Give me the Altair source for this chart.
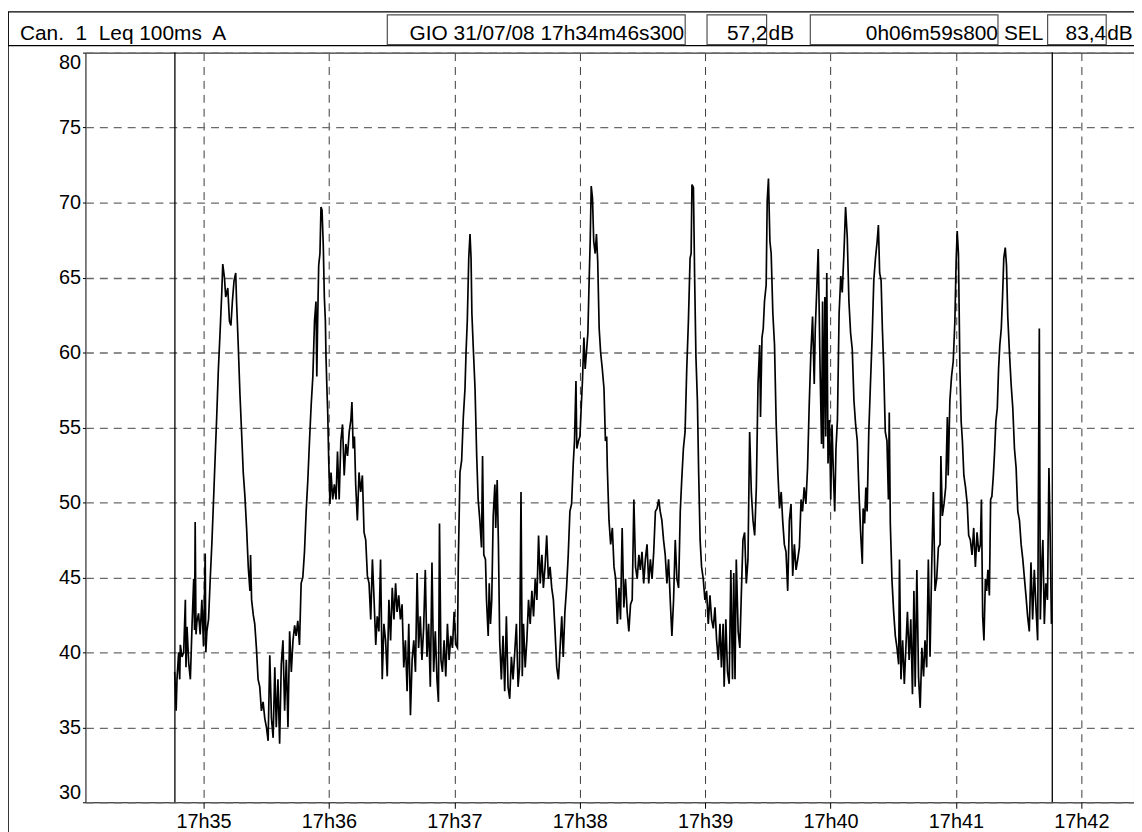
import altair as alt
import pandas as pd

# ---------------- data ----------------
# time in seconds after 17h00m00s, level in dB(A)
t_sec = [
    2086.2, 2086.9, 2087.3, 2088.1, 2088.6, 2088.9, 2089.7, 2090.5, 2091.3, 2091.6,
    2092.1, 2092.9, 2093.7, 2094.5, 2095.3, 2095.7, 2096.0, 2096.4, 2096.8, 2097.6,
    2098.4, 2099.2, 2100.0, 2100.8, 2101.1, 2101.6, 2102.4, 2103.2, 2104.0, 2104.8,
    2105.5, 2106.3, 2107.1, 2107.9, 2108.7, 2109.2, 2110.0, 2110.6, 2111.6, 2112.4,
    2113.1, 2113.8, 2114.6, 2115.4, 2115.8, 2116.6, 2117.4, 2118.2, 2119.0, 2119.8,
    2120.6, 2121.4, 2122.2, 2122.5, 2123.0, 2123.8, 2124.5, 2125.3, 2126.1, 2126.9,
    2127.7, 2128.5, 2129.3, 2130.1, 2130.9, 2131.7, 2132.5, 2133.3, 2134.1, 2134.8,
    2135.6, 2136.4, 2137.2, 2138.0, 2138.8, 2139.6, 2140.4, 2141.2, 2142.0, 2142.8,
    2143.6, 2144.3, 2145.1, 2145.9, 2146.7, 2147.5, 2148.3, 2149.1, 2149.9, 2150.7,
    2151.5, 2152.3,
    2153.1, 2153.8, 2154.2, 2154.6, 2155.1, 2155.7, 2156.2, 2156.7, 2157.3, 2157.8,
    2158.3, 2158.6, 2159.1, 2159.4, 2159.9, 2160.5, 2161.0, 2161.8, 2162.6, 2163.4,
    2164.1, 2164.9, 2165.7, 2166.5, 2167.3, 2168.1, 2168.9, 2169.7, 2170.5, 2171.0,
    2171.6, 2172.2, 2172.8, 2173.6, 2174.4, 2175.2, 2176.0, 2176.8, 2177.6, 2178.4,
    2179.2, 2180.0, 2180.8, 2181.6, 2182.4, 2183.1, 2183.9, 2184.7, 2185.5, 2186.3,
    2187.1, 2187.9, 2188.7, 2189.5, 2190.3, 2191.1, 2191.9, 2192.6, 2193.4, 2194.2,
    2195.0, 2195.8, 2196.6, 2197.4, 2198.2, 2199.0, 2199.8, 2200.6, 2201.4, 2202.2,
    2202.9, 2203.7, 2204.5, 2205.3, 2206.1, 2206.9, 2207.7, 2208.5, 2209.3, 2210.1,
    2210.9, 2211.7, 2212.4, 2212.9, 2213.6, 2214.3, 2215.1, 2215.9, 2216.7, 2217.5,
    2218.3, 2219.1, 2219.9, 2220.7, 2221.5,
    2221.9, 2222.7, 2223.5, 2224.3, 2225.1, 2225.6, 2226.2, 2226.9, 2227.5, 2228.0,
    2228.4, 2229.1, 2229.9, 2230.7, 2231.4, 2232.2, 2233.0, 2233.5, 2234.1, 2234.9,
    2235.4, 2236.2, 2236.7, 2237.3, 2237.9, 2238.6, 2239.4, 2239.8, 2240.5, 2241.1,
    2241.7, 2242.5, 2243.3, 2244.1, 2244.9, 2245.7, 2246.5, 2247.3, 2248.1, 2248.9,
    2249.7, 2250.5, 2251.2, 2251.9, 2252.5, 2253.1, 2253.9, 2254.7, 2255.5, 2256.3,
    2257.1, 2257.9, 2258.7, 2259.5, 2260.3, 2261.1, 2261.9, 2262.6, 2263.4, 2264.2,
    2265.0, 2265.8, 2266.6, 2267.4, 2268.2, 2269.0, 2269.8, 2270.6, 2271.4, 2272.1,
    2272.9, 2273.7, 2274.5, 2275.3, 2276.1, 2276.9, 2277.5, 2278.2, 2278.6, 2279.4,
    2280.1, 2280.7, 2281.3, 2282.0, 2282.6, 2283.2, 2283.9, 2284.5, 2285.0, 2285.5,
    2286.1, 2286.7, 2287.4, 2288.0, 2288.6, 2289.3, 2290.0, 2290.8, 2291.6,
    2292.3, 2292.9, 2293.2, 2294.0, 2294.8, 2295.6, 2296.4, 2297.2, 2298.0, 2298.8,
    2299.5, 2300.3, 2301.1, 2301.9, 2302.7, 2303.5, 2304.3, 2305.1, 2305.9, 2306.7,
    2307.5, 2308.3, 2309.0, 2309.8, 2310.6, 2311.4, 2312.2, 2313.0, 2313.8, 2314.6,
    2315.4, 2316.2, 2317.0, 2317.8, 2318.5, 2319.3, 2320.1, 2320.9, 2321.7, 2322.5,
    2323.3, 2324.1, 2324.9, 2325.7, 2326.5, 2327.3, 2328.1, 2328.8, 2329.6, 2330.4,
    2331.2, 2332.0, 2332.8, 2333.3, 2333.7, 2334.4, 2335.0, 2335.6, 2336.3, 2336.9,
    2337.6, 2338.3, 2339.1, 2339.9, 2340.7, 2341.5, 2342.3, 2343.1, 2343.9, 2344.7,
    2345.5, 2346.3, 2347.1, 2347.8, 2348.6, 2349.1, 2349.9, 2350.7, 2351.5, 2352.3,
    2353.1, 2353.7, 2354.3, 2354.9, 2355.8, 2356.6, 2357.3, 2358.1, 2358.9,
    2359.7, 2360.5, 2361.3, 2362.1, 2362.9, 2363.7, 2364.5, 2365.3, 2366.1, 2366.5,
    2367.2, 2367.8, 2368.4, 2369.2, 2369.7, 2370.3, 2371.0, 2371.6, 2372.4, 2373.2,
    2374.0, 2374.8, 2375.6, 2376.4, 2377.1, 2377.9, 2378.7, 2379.5, 2380.3, 2381.1,
    2381.9, 2382.7, 2383.5, 2384.3, 2385.1, 2385.9, 2386.6, 2387.4, 2388.2, 2389.0,
    2389.8, 2390.6, 2391.4, 2392.2, 2392.7, 2393.5, 2394.1, 2394.6, 2395.0, 2395.7,
    2396.2, 2396.6, 2397.3, 2397.7, 2398.2, 2398.8, 2399.5, 2400.1, 2400.7, 2401.4,
    2402.0, 2402.6, 2403.3, 2404.1, 2404.9, 2405.6, 2406.4, 2407.2, 2408.0, 2408.8,
    2409.6, 2410.4, 2411.2, 2412.0, 2412.8, 2413.6, 2414.4, 2415.2, 2415.6, 2416.3,
    2416.9, 2417.5, 2418.3, 2419.1, 2419.9, 2420.7, 2421.5, 2422.3, 2422.9, 2423.5,
    2424.2, 2424.8, 2425.4, 2426.2, 2427.0, 2427.7, 2428.1, 2428.6, 2429.4,
    2430.2, 2431.0, 2431.8, 2432.6, 2433.0, 2433.7, 2434.5, 2435.3, 2436.1, 2436.8,
    2437.6, 2438.4, 2439.2, 2439.9, 2440.5, 2441.3, 2442.1, 2442.9, 2443.7, 2444.5,
    2445.2, 2446.0, 2446.8, 2447.6, 2448.4, 2449.2, 2450.0, 2450.8, 2451.6, 2452.4,
    2452.8, 2453.5, 2454.3, 2455.1, 2455.9, 2456.3, 2457.1, 2457.9, 2458.7, 2459.5,
    2460.1, 2460.6, 2461.2, 2461.9, 2462.5, 2463.1, 2463.8, 2464.6, 2465.4, 2466.1,
    2466.9, 2467.7, 2468.5, 2469.3, 2470.1, 2470.9, 2471.7, 2472.2, 2472.8, 2473.4,
    2474.1, 2474.7, 2475.3, 2476.0, 2476.6, 2477.2, 2477.9, 2478.5, 2479.1, 2479.8,
    2480.4, 2481.0, 2481.7, 2482.3, 2482.9, 2483.6, 2484.2, 2484.8, 2485.6, 2486.4,
    2487.2, 2488.0, 2488.8, 2489.6, 2490.4, 2491.2, 2492.0, 2492.8, 2493.5, 2494.3,
    2495.1, 2495.9, 2496.7, 2497.5, 2498.3, 2499.1, 2499.9, 2500.4, 2501.0, 2501.6,
    2502.3, 2503.0, 2503.8, 2504.5, 2505.1, 2505.7,
]

level_db = [
    38.7, 36.1, 38.2, 40.0, 38.2, 40.5, 39.7, 40.0, 43.5, 39.0,
    41.7, 39.3, 38.2, 41.8, 44.9, 41.5, 48.7, 41.2, 42.0, 42.6,
    41.2, 43.5, 40.4, 46.6, 40.0, 41.4, 42.2, 44.9, 47.3, 50.2,
    52.8, 55.7, 58.9, 61.3, 63.9, 65.9, 65.0, 63.7, 64.3, 62.1,
    61.8, 63.4, 64.8, 65.3, 63.4, 60.5, 57.3, 54.7, 52.0, 50.4,
    48.3, 45.7, 44.1, 46.5, 43.5, 42.5, 41.9, 40.3, 38.2, 37.7,
    36.1, 36.7, 35.6, 35.0, 34.1, 39.8, 35.6, 34.3, 39.0, 35.0,
    38.2, 33.9, 39.2, 40.8, 36.1, 39.5, 35.0, 41.4, 38.7, 40.8,
    41.8, 41.1, 42.1, 40.5, 44.6, 45.0, 46.7, 49.4, 51.5, 54.1,
    56.5, 58.4,
    62.1, 63.4, 58.4, 62.1, 65.8, 66.6, 69.7, 69.5, 67.1, 63.7,
    62.1, 59.7, 57.3, 56.1, 52.8, 49.9, 52.0, 50.2, 51.2, 50.2,
    53.4, 50.2, 54.1, 55.2, 51.8, 53.9, 53.1, 54.7, 55.5, 56.7,
    53.6, 54.4, 51.2, 48.8, 52.0, 50.7, 51.8, 48.0, 47.5, 45.1,
    44.6, 42.2, 46.2, 43.5, 40.5, 42.4, 41.4, 46.2, 38.2, 41.9,
    40.8, 38.4, 43.5, 40.8, 44.3, 42.2, 44.6, 42.7, 43.8, 42.2,
    43.2, 39.0, 40.8, 37.4, 41.9, 35.8, 39.5, 40.8, 38.7, 45.3,
    40.3, 42.4, 39.5, 41.6, 45.5, 39.7, 41.9, 37.7, 46.0, 38.7,
    41.4, 38.2, 36.7, 48.6, 39.5, 38.7, 40.8, 38.4, 41.9, 39.5,
    41.1, 40.3, 42.7, 40.5, 40.3,
    46.0, 52.0, 52.8, 55.7, 57.6, 60.0, 62.1, 66.3, 67.9, 66.3,
    62.6, 60.2, 57.6, 53.1, 50.2, 48.8, 47.0, 53.1, 46.5, 46.2,
    43.5, 41.1, 44.6, 41.9, 43.5, 49.1, 51.2, 48.3, 51.5, 47.2,
    40.8, 38.2, 41.1, 37.4, 42.4, 37.7, 36.9, 39.7, 38.2, 40.0,
    41.9, 37.7, 39.0, 50.7, 38.4, 41.9, 39.0, 40.8, 43.5, 41.9,
    44.1, 42.4, 44.9, 43.5, 47.8, 44.6, 46.5, 44.3, 45.7, 47.8,
    44.9, 45.7, 44.3, 43.5, 41.4, 39.0, 38.2, 40.3, 42.4, 39.7,
    42.7, 44.3, 46.5, 49.4, 49.9, 52.6, 54.1, 58.1, 53.6, 54.1,
    54.4, 56.3, 58.1, 61.0, 58.9, 60.0, 61.3, 64.8, 67.4, 71.1,
    70.3, 67.4, 66.6, 67.9, 66.1, 61.6, 60.0, 58.9, 57.6,
    54.1, 54.4, 52.3, 48.8, 47.2, 48.3, 45.7, 44.9, 41.9, 44.3,
    42.2, 48.3, 43.0, 44.9, 42.7, 41.4, 43.2, 43.5, 50.2, 45.7,
    44.9, 46.5, 45.5, 46.7, 44.6, 46.2, 47.2, 44.6, 46.2, 44.9,
    46.7, 49.4, 49.6, 50.2, 49.4, 48.8, 47.5, 46.5, 44.6, 46.2,
    43.5, 41.1, 43.5, 47.5, 44.9, 44.3, 49.4, 51.5, 53.6, 54.7,
    58.9, 62.1, 66.3, 66.6, 71.2, 71.0, 64.8, 59.7, 56.8, 52.0,
    47.5, 45.7, 44.9, 43.5, 44.1, 41.9, 43.8, 42.2, 41.6, 43.0,
    40.8, 39.5, 41.9, 39.0, 41.9, 37.7, 42.2, 38.7, 37.9, 45.5,
    38.2, 45.3, 38.2, 46.2, 41.4, 40.3, 43.8, 47.5, 48.0,
    44.6, 46.2, 54.7, 50.7, 48.8, 47.8, 51.0, 57.9, 60.5, 55.7,
    61.0, 61.6, 63.4, 64.5, 70.1, 71.6, 67.4, 66.6, 62.6, 60.5,
    55.2, 52.0, 49.6, 50.7, 48.8, 47.2, 46.7, 44.1, 48.8, 49.9,
    45.1, 47.2, 45.5, 46.2, 47.0, 50.2, 49.4, 51.0, 49.9, 52.3,
    56.5, 60.0, 62.4, 57.9, 61.6, 64.5, 66.9, 62.6, 58.9, 53.9,
    63.4, 53.6, 63.7, 54.4, 65.3, 52.6, 55.5, 50.2, 55.2, 51.8,
    49.4, 53.6, 55.5, 62.6, 65.1, 64.0, 66.6, 69.7, 67.7, 63.4,
    61.3, 60.2, 56.8, 55.2, 54.1, 50.7, 48.0, 45.9, 49.6, 48.6,
    51.0, 49.4, 54.7, 57.9, 61.0, 64.8, 66.3, 67.4, 68.5, 65.3,
    64.8, 61.6, 59.2, 54.7, 54.1, 50.2, 56.0, 48.6, 44.8,
    42.7, 41.1, 40.3, 39.2, 46.2, 38.2, 40.8, 37.9, 40.5, 42.7,
    39.5, 42.2, 37.2, 44.1, 37.7, 45.5, 38.4, 36.3, 40.3, 38.4,
    40.8, 39.0, 46.2, 39.7, 45.7, 50.7, 44.1, 44.9, 47.0, 47.2,
    53.1, 49.1, 49.9, 51.0, 55.7, 51.8, 56.8, 58.4, 59.4, 62.1,
    66.1, 68.1, 66.6, 58.9, 55.4, 54.1, 51.8, 51.0, 49.9, 47.8,
    47.5, 46.5, 48.3, 45.7, 48.0, 46.7, 47.2, 50.2, 42.4, 40.8,
    44.9, 44.1, 45.5, 43.8, 50.2, 50.4, 51.8, 53.4, 55.4, 56.3,
    58.9, 60.5, 61.6, 63.7, 66.3, 67.0, 65.8, 62.4, 60.0, 57.9,
    56.3, 53.6, 52.3, 49.4, 48.8, 47.2, 46.2, 44.9, 43.8, 42.4,
    41.4, 46.0, 42.2, 45.5, 43.0, 40.8, 61.6, 42.2, 45.7, 47.5,
    41.9, 44.6, 43.5, 52.3, 47.8, 41.9,
]

cursor_t = [2086.3, 2506.1]                      # 17h34m46s300 and +0h06m59s800
x_tick_values = [2100, 2160, 2220, 2280, 2340, 2400, 2460, 2520]
y_tick_values = [30, 35, 40, 45, 50, 55, 60, 65, 70, 75, 80]

channel_label = "Can.\u00a0 1\u00a0 Leq 100ms\u00a0 A"
start_label = "GIO 31/07/08 17h34m46s300"
leq_value = "57,2"
duration_label = "0h06m59s800"
sel_label = "SEL"
sel_value = "83,4"
unit_label = "dB"

# ---------------- layout ----------------
W, H = 1056, 755
X0 = 2043.5
X1 = 2545.2
HEADER_FONT = "Liberation Sans, Arial"
HEADER_SIZE = 21
AXIS_FONT = "Liberation Sans, Arial"

df = pd.DataFrame({"t": t_sec, "db": level_db})
one = pd.DataFrame({"k": [0]})

xscale = alt.Scale(domain=[X0, X1], nice=False, zero=False)
yscale = alt.Scale(domain=[30, 80], nice=False, zero=False)

line = alt.Chart(df).mark_line(color="black", strokeWidth=1.7, clip=True).encode(
    x=alt.X("t:Q", scale=xscale, title=None,
            axis=alt.Axis(values=x_tick_values,
                          labelExpr="'17h' + round(datum.value / 60)",
                          grid=True, gridDash=[8, 6], gridColor="#3a3a3a", gridWidth=1,
                          domain=False, ticks=True, tickSize=6, tickColor="black",
                          labelFont=AXIS_FONT, labelFontSize=20, labelColor="black",
                          labelPadding=3, labelFlush=False, labelOverlap=False)),
    y=alt.Y("db:Q", scale=yscale, title=None,
            axis=alt.Axis(values=y_tick_values, format="d",
                          grid=True, gridDash=[8, 6], gridColor="#6a6a6a", gridWidth=1.3,
                          domain=False, ticks=True, tickSize=3, tickColor="black",
                          labelFont=AXIS_FONT, labelFontSize=20, labelColor="black",
                          labelPadding=2, labelFlush=True, labelOverlap=False)),
    order="t:Q",
)

cursors = alt.Chart(pd.DataFrame({"t": cursor_t})).mark_rule(
    color="black", strokeWidth=1.3).encode(
    x=alt.X("t:Q", scale=xscale))


def box(x1, x2, y1, y2, stroke, sw):
    return alt.Chart(one).mark_rect(fill="white", stroke=stroke, strokeWidth=sw).encode(
        x=alt.value(x1), x2=alt.value(x2), y=alt.value(y1), y2=alt.value(y2))


def label(x, text, align):
    return alt.Chart(one).mark_text(
        align=align, baseline="alphabetic", font=HEADER_FONT,
        fontSize=HEADER_SIZE, color="black").encode(
        x=alt.value(x), y=alt.value(-13), text=alt.value(text))


# header (pixel positions relative to the plot origin)
header = [box(-78, 1070, -41, -7, "black", 1.2)]
for bx1, bx2 in [(304, 604), (626, 686), (730, 919), (969, 1028)]:
    header.append(box(bx1, bx2, -38, -8, "#505050", 1.2))
header += [
    label(-66, channel_label, "left"),
    label(603, start_label, "right"),
    label(687, leq_value, "right"),
    label(688, unit_label, "left"),
    label(919, duration_label, "right"),
    label(925, sel_label, "left"),
    label(1028, sel_value, "right"),
    label(1029, unit_label, "left"),
]

outer_left = alt.Chart(one).mark_rule(color="black", strokeWidth=1.6).encode(
    x=alt.value(-78), y=alt.value(-41), y2=alt.value(800))

chart = alt.layer(line, cursors, *header, outer_left).properties(
    width=W, height=H,
    autosize=alt.AutoSizeParams(type="none"),
    padding={"left": 78, "top": 42, "right": 0, "bottom": 30},
    background="white",
).configure_view(
    stroke="black", strokeWidth=1
)

chart.save("out.html", embed_options={"renderer": "svg", "actions": False})
